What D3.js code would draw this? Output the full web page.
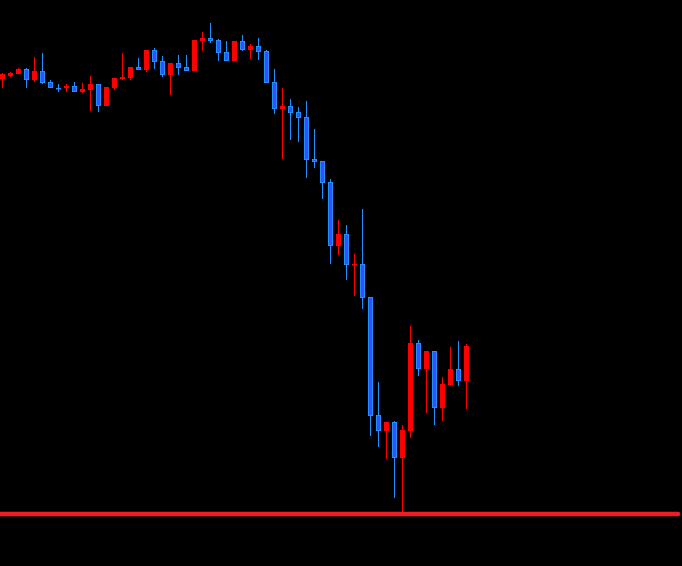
<!DOCTYPE html>
<html>
<head>
<meta charset="utf-8">
<script src="https://cdn.jsdelivr.net/npm/d3@7/dist/d3.min.js"></script>
<style>
  html, body { margin: 0; padding: 0; background: #000; }
  svg { display: block; }
</style>
</head>
<body>
<svg id="chart" width="682" height="566"></svg>
<script>
// Candle data, price units
const opens  = [1.1235,1.1238,1.1240,1.1245,1.1234,1.1243,1.1232,1.1226,1.1226,1.1228,
                1.1222,1.1224,1.1230,1.1208,1.1226,1.1235,1.1236,1.1247,1.1244,1.1264,
                1.1253,1.1239,1.1251,1.1247,1.1243,1.1273,1.1276,1.1274,1.1262,1.1253,
                1.1273,1.1264,1.1268,1.1263,1.1232,1.1205,1.1208,1.1202,1.1197,1.1155,
                1.1153,1.1132,1.1068,1.1080,1.1049,1.1050,1.1017,1.0899,1.0883,1.0892,
                1.0856,1.0883,1.0971,1.0945,1.0963,1.0906,1.0929,1.0945,1.0933];
const highs  = [1.1241,1.1242,1.1246,1.1246,1.1257,1.1261,1.1234,1.1230,1.1230,1.1232,
                1.1231,1.1238,1.1230,1.1227,1.1236,1.1261,1.1247,1.1256,1.1264,1.1266,
                1.1258,1.1251,1.1259,1.1259,1.1274,1.1282,1.1291,1.1275,1.1273,1.1273,
                1.1279,1.1270,1.1276,1.1264,1.1245,1.1226,1.1215,1.1207,1.1213,1.1185,
                1.1153,1.1135,1.1094,1.1089,1.1060,1.1105,1.1017,1.0932,1.0892,1.0893,
                1.0889,1.0988,1.0974,1.0963,1.0963,1.0937,1.0967,1.0973,1.0970];
const lows   = [1.1226,1.1237,1.1240,1.1226,1.1232,1.1230,1.1226,1.1222,1.1222,1.1222,
                1.1221,1.1203,1.1202,1.1208,1.1224,1.1234,1.1234,1.1244,1.1242,1.1245,
                1.1237,1.1219,1.1239,1.1243,1.1243,1.1263,1.1271,1.1253,1.1253,1.1253,
                1.1263,1.1255,1.1254,1.1231,1.1200,1.1155,1.1174,1.1172,1.1136,1.1146,
                1.1115,1.1050,1.1059,1.1034,1.1018,1.1005,1.0878,1.0867,1.0855,1.0816,
                1.0802,1.0876,1.0938,1.0901,1.0889,1.0893,1.0928,1.0928,1.0905];
const closes = [1.1240,1.1241,1.1245,1.1234,1.1243,1.1231,1.1226,1.1225,1.1228,1.1222,
                1.1225,1.1230,1.1208,1.1227,1.1236,1.1237,1.1247,1.1244,1.1264,1.1252,
                1.1239,1.1251,1.1246,1.1243,1.1274,1.1276,1.1273,1.1261,1.1253,1.1273,
                1.1264,1.1268,1.1262,1.1231,1.1205,1.1208,1.1201,1.1196,1.1154,1.1152,
                1.1131,1.1068,1.1080,1.1049,1.1050,1.1016,1.0898,1.0883,1.0892,1.0856,
                1.0884,1.0971,1.0945,1.0963,1.0906,1.0930,1.0945,1.0933,1.0968];
const levelPrice = 1.0800;   // horizontal level line
const priceRange = [1.0748, 1.1314];

const data = opens.map((o, i) => ({ i, o, h: highs[i], l: lows[i], c: closes[i] }));

const W = 682, H = 566;
const svg = d3.select("#chart");
svg.append("rect").attr("width", W).attr("height", H).attr("fill", "#000");

const x = d3.scaleBand()
  .domain(data.map(d => d.i))
  .range([-1.5, 470.5])
  .paddingInner(0.375)
  .paddingOuter(0.1875);

const y = d3.scaleLinear().domain(priceRange).range([H, 0]);

const bullFill = "#ff0000", bullStroke = "#ff0000";
const bearFill = "#3a4cff", bearStroke = "#1e90ff";

const g = svg.append("g");

const candle = g.selectAll("g.candle").data(data).join("g").attr("class", "candle");

candle.append("line")
  .attr("x1", d => x(d.i) + x.bandwidth() / 2)
  .attr("x2", d => x(d.i) + x.bandwidth() / 2)
  .attr("y1", d => Math.round(y(d.h)))
  .attr("y2", d => Math.round(y(d.l)))
  .attr("stroke", d => d.c >= d.o ? bullStroke : bearStroke)
  .attr("stroke-width", 1)
  .attr("shape-rendering", "crispEdges");

candle.append("rect")
  .attr("x", d => x(d.i) + 0.5)
  .attr("width", x.bandwidth() - 1)
  .attr("y", d => Math.round(y(Math.max(d.o, d.c))) + 0.5)
  .attr("height", d => Math.max(0.5, Math.round(Math.abs(y(d.o) - y(d.c))) - 1))
  .attr("fill", d => d.c >= d.o ? bullFill : bearFill)
  .attr("stroke", d => d.c >= d.o ? bullStroke : bearStroke)
  .attr("stroke-width", 1);

// level line
svg.append("line")
  .attr("x1", 0).attr("x2", 678)
  .attr("y1", y(levelPrice)).attr("y2", y(levelPrice))
  .attr("stroke", "#ee1c24")
  .attr("stroke-width", 4.5)
  .attr("stroke-linecap", "round");
</script>
</body>
</html>
